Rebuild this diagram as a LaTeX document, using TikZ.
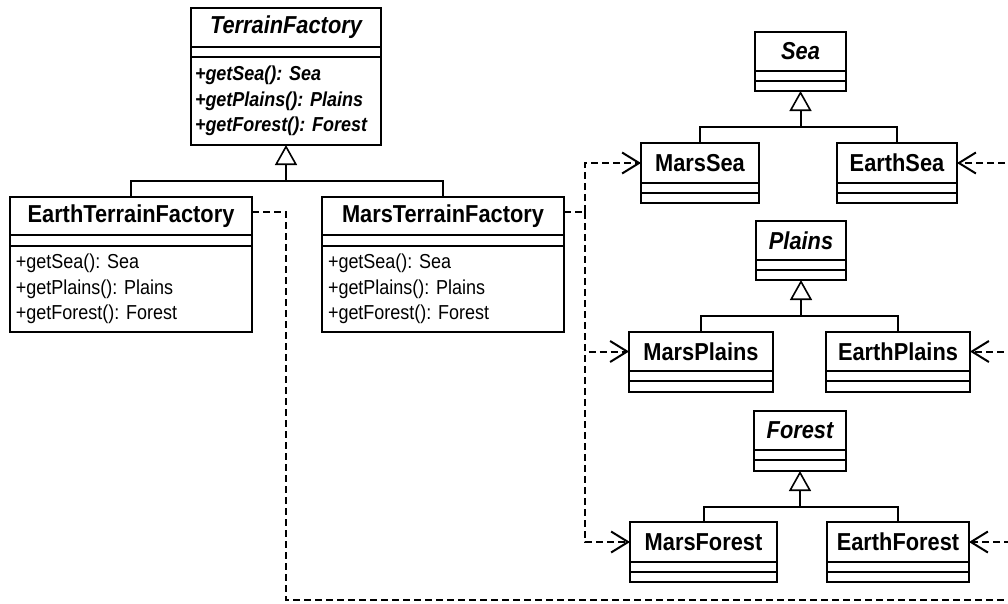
\documentclass[tikz,border=0pt]{standalone}
\usepackage{fontspec}
\setmainfont{Liberation Sans}[FakeStretch=0.89]
\usetikzlibrary{arrows.meta}
\frenchspacing
\begin{document}
\begin{tikzpicture}[x=1pt,y=-1pt,
  box/.style={draw, line width=1.3pt, inner sep=0pt, outer sep=0pt, anchor=north west},
  ttl/.style={box, font=\frenchspacing\bfseries\fontsize{24.5}{24.5}\selectfont},
  attl/.style={box, font=\frenchspacing\bfseries\itshape\fontsize{24.5}{24.5}\selectfont},
  mth/.style={box, align=left, inner xsep=6pt, font=\frenchspacing\fontsize{20.2}{25.5}\selectfont},
  amth/.style={box, align=left, inner xsep=4pt, font=\frenchspacing\bfseries\itshape\fontsize{20.2}{25.5}\selectfont},
  inh/.style={line width=2pt},
  gen/.style={inh, -{Triangle[open, length=20pt, width=22pt, line width=1.6pt]}},
  dep/.style={line width=2pt, dash pattern=on 7pt off 4pt},
  deparrow/.style={dep, -{Straight Barb[length=17pt, width=21pt, line width=2pt]}}
]
\useasboundingbox (0,0) rectangle (1008,603);
\clip (0,0) rectangle (1008,603);

% TerrainFactory
\node[attl, minimum width=190pt, minimum height=39pt] (tf) at (191,8) {TerrainFactory};
\node[box, minimum width=190pt, minimum height=10pt] (tf-a) at (tf.south west) {};
\node[amth, minimum height=88pt, text width=182pt] (tf-m) at (tf-a.south west)
  {+getSea(): Sea\\+getPlains(): Plains\\+getForest(): Forest};

% EarthTerrainFactory
\node[ttl, minimum width=242pt, minimum height=38pt] (etf) at (10,197) {EarthTerrainFactory};
\node[box, minimum width=242pt, minimum height=11pt] (etf-a) at (etf.south west) {};
\node[mth, minimum height=86pt, text width=230pt] (etf-m) at (etf-a.south west)
  {+getSea(): Sea\\+getPlains(): Plains\\+getForest(): Forest};

% MarsTerrainFactory
\node[ttl, minimum width=242pt, minimum height=38pt] (mtf) at (322,197) {MarsTerrainFactory};
\node[box, minimum width=242pt, minimum height=11pt] (mtf-a) at (mtf.south west) {};
\node[mth, minimum height=86pt, text width=230pt] (mtf-m) at (mtf-a.south west)
  {+getSea(): Sea\\+getPlains(): Plains\\+getForest(): Forest};

% Sea family
\node[attl, minimum width=91pt, minimum height=39pt] (sea) at (755,32) {Sea};
\node[box, minimum width=91pt, minimum height=10pt] (sea-a) at (sea.south west) {};
\node[box, minimum width=91pt, minimum height=10pt] (sea-m) at (sea-a.south west) {};

\node[ttl, minimum width=118pt, minimum height=40pt] (ms) at (641,143) {MarsSea};
\node[box, minimum width=118pt, minimum height=10pt] (ms-a) at (ms.south west) {};
\node[box, minimum width=118pt, minimum height=10pt] (ms-m) at (ms-a.south west) {};

\node[ttl, minimum width=120pt, minimum height=40pt] (es) at (837,143) {EarthSea};
\node[box, minimum width=120pt, minimum height=10pt] (es-a) at (es.south west) {};
\node[box, minimum width=120pt, minimum height=10pt] (es-m) at (es-a.south west) {};

% Plains family
\node[attl, minimum width=90pt, minimum height=39pt] (pl) at (756,221) {Plains};
\node[box, minimum width=90pt, minimum height=10pt] (pl-a) at (pl.south west) {};
\node[box, minimum width=90pt, minimum height=10pt] (pl-m) at (pl-a.south west) {};

\node[ttl, minimum width=144pt, minimum height=39pt] (mp) at (629,332) {MarsPlains};
\node[box, minimum width=144pt, minimum height=10pt] (mp-a) at (mp.south west) {};
\node[box, minimum width=144pt, minimum height=11pt] (mp-m) at (mp-a.south west) {};

\node[ttl, minimum width=144pt, minimum height=39pt] (ep) at (826,332) {EarthPlains};
\node[box, minimum width=144pt, minimum height=10pt] (ep-a) at (ep.south west) {};
\node[box, minimum width=144pt, minimum height=11pt] (ep-m) at (ep-a.south west) {};

% Forest family
\node[attl, minimum width=92pt, minimum height=39pt] (fo) at (754,411) {Forest};
\node[box, minimum width=92pt, minimum height=10pt] (fo-a) at (fo.south west) {};
\node[box, minimum width=92pt, minimum height=11pt] (fo-m) at (fo-a.south west) {};

\node[ttl, minimum width=147pt, minimum height=40pt] (mf) at (630,522) {MarsForest};
\node[box, minimum width=147pt, minimum height=10pt] (mf-a) at (mf.south west) {};
\node[box, minimum width=147pt, minimum height=10pt] (mf-m) at (mf-a.south west) {};

\node[ttl, minimum width=142pt, minimum height=40pt] (ef) at (827,522) {EarthForest};
\node[box, minimum width=142pt, minimum height=10pt] (ef-a) at (ef.south west) {};
\node[box, minimum width=142pt, minimum height=10pt] (ef-m) at (ef-a.south west) {};

% Generalization
\coordinate (tfbar) at (tf-m.south |- 0,181);
\draw[inh] (etf.north) |- (tfbar) -| (mtf.north);
\draw[gen] (tfbar) -- (tf-m.south);

\coordinate (seabar) at (sea-m.south |- 0,127);
\draw[inh] (ms.north) |- (seabar) -| (es.north);
\draw[gen] (seabar) -- (sea-m.south);

\coordinate (plbar) at (pl-m.south |- 0,316);
\draw[inh] (mp.north) |- (plbar) -| (ep.north);
\draw[gen] (plbar) -- (pl-m.south);

\coordinate (fobar) at (fo-m.south |- 0,507);
\draw[inh] (mf.north) |- (fobar) -| (ef.north);
\draw[gen] (fobar) -- (fo-m.south);

% Dependencies: Mars
\coordinate (mj) at (585,212);
\draw[dep] ([yshift=4pt]mtf.east) -- (mj);
\draw[deparrow] (mj) |- (ms.west);
\draw[deparrow] (mj) |- (mp.west);
\draw[deparrow] (mj) |- (mf.west);

% Dependencies: Earth
\coordinate (ej) at (286,212);
\coordinate (eb) at (286,600);
\coordinate (er) at (1030,600);
\draw[dep] ([yshift=4pt]etf.east) -- (ej) -- (eb) -- (er) -- (1030,150);
\draw[deparrow] (er) |- (es.east);
\draw[deparrow] (er) |- (ep.east);
\draw[deparrow] (er) |- (ef.east);
\end{tikzpicture}
\end{document}
